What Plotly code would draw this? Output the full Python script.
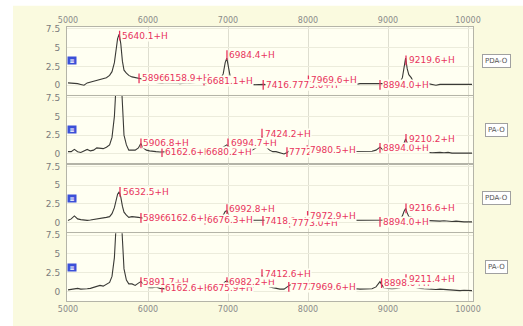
import plotly.graph_objects as go
from plotly.subplots import make_subplots

# ---------------- data ----------------
mz = [5000, 5040, 5080, 5120, 5160, 5200, 5240, 5280, 5320, 5360,
      5400, 5440, 5480, 5520, 5550, 5580, 5600, 5620, 5640, 5660,
      5680, 5700, 5730, 5760, 5800, 5840, 5880, 5910, 5940, 5980,
      6020, 6060, 6100, 6150, 6200, 6250, 6300, 6350, 6400, 6450,
      6500, 6550, 6600, 6650, 6700, 6750, 6800, 6850, 6900, 6940,
      6965, 6985, 7005, 7030, 7060, 7100, 7150, 7200, 7250, 7300,
      7350, 7400, 7425, 7450, 7480, 7520, 7560, 7600, 7650, 7700,
      7740, 7780, 7820, 7860, 7900, 7950, 8000, 8050, 8100, 8150,
      8200, 8250, 8300, 8350, 8400, 8450, 8500, 8550, 8600, 8650,
      8700, 8750, 8800, 8850, 8880, 8900, 8920, 8950, 9000, 9050,
      9100, 9150, 9180, 9200, 9220, 9240, 9260, 9290, 9320, 9360,
      9400, 9450, 9500, 9550, 9600, 9650, 9700, 9750, 9800, 9850,
      9900, 9950, 10000, 10050]

int_pda1 = [0.3, 0.3, 0.25, 0.2, 0.1, 0.0, 0.3, 0.4, 0.5, 0.6,
            0.7, 0.9, 1.0, 1.3, 1.8, 3.0, 4.8, 6.2, 6.8, 5.5,
            3.2, 2.0, 1.6, 1.3, 1.1, 1.0, 1.0, 0.9, 0.8, 0.6,
            0.5, 0.4, 0.35, 0.3, 0.25, 0.2, 0.25, 0.3, 0.2, 0.25,
            0.3, 0.3, 0.35, 0.4, 0.3, 0.3, 0.4, 0.5, 0.7, 1.5,
            3.0, 3.6, 2.6, 1.0, 0.4, 0.2, 0.2, 0.1, 0.1, 0.05,
            0.1, 0.1, 0.1, 0.1, 0.05, 0.1, 0.05, 0.1, 0.1, 0.1,
            0.1, 0.05, 0.1, 0.1, 0.05, 0.1, 0.2, 0.25, 0.3, 0.2,
            0.15, 0.2, 0.3, 0.2, 0.1, 0.15, 0.1, 0.3, 0.1, 0.2,
            0.2, 0.1, 0.1, 0.1, 0.15, 0.2, 0.2, 0.2, 0.2, 0.25,
            0.3, 0.4, 1.0, 2.5, 3.6, 2.2, 1.4, 1.0, 0.4, 0.2,
            0.15, 0.1, 0.2, 0.1, 0.0, 0.1, 0.05, 0.1, 0.1, 0.1,
            0.05, 0.1, 0.1, 0.1]

int_pa1 = [0.3, 0.3, 0.6, 0.3, 0.2, 0.4, 0.6, 0.4, 0.5, 0.8,
           0.8, 0.7, 0.9, 1.2, 2.2, 5.0, 9.0, 12.0, 12.5, 11.0,
           6.0, 2.5, 1.2, 0.5, 0.5, 0.5, 0.8, 1.4, 0.8, 0.5,
           0.4, 0.3, 0.3, 0.25, 0.3, 0.3, 0.3, 0.3, 0.4, 0.3,
           0.3, 0.3, 0.3, 0.3, 0.3, 0.3, 0.3, 0.4, 0.6, 0.9,
           1.1, 1.2, 1.0, 0.8, 0.4, 0.3, 0.3, 0.4, 0.5, 0.5,
           0.8, 1.5, 2.3, 1.8, 0.9, 0.5, 0.3, 0.3, 0.2, 0.0,
           0.2, 0.5, 0.2, 0.3, 0.3, 0.3, 0.3, 0.35, 0.3, 0.3,
           0.3, 0.35, 0.3, 0.3, 0.3, 0.25, 0.3, 0.3, 0.3, 0.3,
           0.3, 0.3, 0.35, 0.5, 0.8, 0.9, 0.7, 0.4, 0.35, 0.3,
           0.3, 0.4, 0.8, 1.4, 2.0, 1.5, 1.0, 0.6, 0.4, 0.3,
           0.3, 0.2, 0.2, 0.15, 0.2, 0.2, 0.15, 0.2, 0.1, 0.1,
           0.1, 0.1, 0.1, 0.1]

int_pda2 = [0.3, 0.5, 0.9, 0.5, 0.4, 0.3, 0.3, 0.35, 0.4, 0.5,
            0.6, 0.6, 0.7, 0.8, 1.2, 2.0, 3.0, 3.8, 4.1, 3.4,
            2.2, 1.4, 1.0, 0.7, 0.8, 0.7, 0.7, 0.65, 0.6, 0.5,
            0.45, 0.4, 0.35, 0.3, 0.3, 0.2, 0.15, 0.2, 0.3, 0.2,
            0.2, 0.25, 0.3, 0.3, 0.4, 0.35, 0.3, 0.4, 0.6, 1.0,
            1.5, 1.6, 1.2, 0.6, 0.4, 0.3, 0.3, 0.3, 0.3, 0.3,
            0.3, 0.3, 0.3, 0.3, 0.25, 0.3, 0.3, 0.3, 0.3, 0.3,
            0.25, 0.3, 0.3, 0.3, 0.3, 0.35, 0.4, 0.3, 0.3, 0.35,
            0.3, 0.3, 0.25, 0.3, 0.3, 0.3, 0.25, 0.3, 0.3, 0.3,
            0.25, 0.3, 0.3, 0.3, 0.3, 0.3, 0.3, 0.3, 0.3, 0.3,
            0.35, 0.45, 0.9, 1.5, 1.9, 1.3, 0.8, 0.7, 0.6, 0.4,
            0.35, 0.3, 0.25, 0.3, 0.2, 0.2, 0.25, 0.2, 0.15, 0.2,
            0.1, 0.1, 0.1, 0.1]

int_pa2 = [0.2, 0.3, 0.3, 0.4, 0.3, 0.3, 0.35, 0.4, 0.5, 0.6,
           0.8, 0.7, 0.9, 1.2, 2.0, 4.5, 8.5, 12.0, 13.0, 11.0,
           6.0, 3.0, 1.5, 1.0, 1.0, 0.8, 1.1, 1.3, 1.0, 0.7,
           0.5, 0.5, 0.6, 0.4, 0.3, 0.3, 0.3, 0.35, 0.3, 0.3,
           0.3, 0.3, 0.3, 0.3, 0.3, 0.35, 0.3, 0.4, 0.7, 1.0,
           1.3, 1.4, 1.2, 0.9, 0.6, 0.4, 0.3, 0.35, 0.4, 0.5,
           0.8, 1.4, 2.1, 1.7, 0.9, 0.6, 0.5, 0.4, 0.3, 0.3,
           0.6, 0.9, 0.4, 0.3, 0.35, 0.3, 0.35, 0.3, 0.4, 0.3,
           0.3, 0.35, 0.3, 0.3, 0.35, 0.3, 0.3, 0.3, 0.35, 0.3,
           0.3, 0.3, 0.35, 0.6, 1.0, 1.3, 0.9, 0.5, 0.4, 0.35,
           0.4, 0.5, 0.9, 1.3, 1.5, 1.2, 0.9, 0.7, 0.6, 0.45,
           0.4, 0.35, 0.3, 0.3, 0.25, 0.3, 0.25, 0.2, 0.2, 0.15,
           0.1, 0.15, 0.1, 0.1]

panel_names = ["PDA-O", "PA-O", "PDA-O", "PA-O"]

peak_x1 = [5645, 5888, 6172, 6700, 6987, 7440, 7770, 8005, 8900, 9225]
peak_y1 = [6.6, 0.9, 0.9, 0.6, 4.0, 0.05, 0.05, 0.65, 0.05, 3.3]
peak_t1 = ["5640.1+H", "5896.4+H", "6158.9+H", "6681.1+H", "6984.4+H",
           "7416.8+H", "7773.0+H", "7969.6+H", "8894.0+H", "9219.6+H"]

peak_x2 = [5912, 6175, 6690, 7000, 7425, 7737, 7990, 8900, 9225]
peak_y2 = [1.4, 0.25, 0.25, 1.4, 2.7, 0.25, 0.5, 0.8, 2.0]
peak_t2 = ["5906.8+H", "6162.6+H", "6680.2+H", "6994.7+H", "7424.2+H",
           "7772.1+H", "7980.5+H", "8894.0+H", "9210.2+H"]

peak_x3 = [5650, 5912, 6175, 6712, 6987, 7437, 7770, 7995, 8900, 9225]
peak_y3 = [4.1, 0.65, 0.65, 0.4, 1.8, 0.25, 0.0, 0.9, 0.1, 1.9]
peak_t3 = ["5632.5+H", "5896.0+H", "6162.6+H", "6676.3+H", "6992.8+H",
           "7418.1+H", "7773.0+H", "7972.9+H", "8894.0+H", "9216.6+H"]

peak_x4 = [5912, 6175, 6712, 6987, 7425, 7760, 7995, 8920, 9225]
peak_y4 = [1.25, 0.5, 0.5, 1.25, 2.3, 0.6, 0.6, 1.1, 1.65]
peak_t4 = ["5891.7+H", "6162.6+H", "6675.9+H", "6982.2+H", "7412.6+H",
           "7772.0+H", "7969.6+H", "8898.6+H", "9211.4+H"]

x_ticks = [5000, 6000, 7000, 8000, 9000, 10000]
x_tick_text = ["5000", "6000", "7000", "8000", "9000", "10000"]
y_ticks = [0, 2.5, 5, 7.5]
y_tick_text = ["0", "2.5", "5", "7.5"]

# ---------------- figure ----------------
spectra = [int_pda1, int_pa1, int_pda2, int_pa2]
peaks = [(peak_x1, peak_y1, peak_t1), (peak_x2, peak_y2, peak_t2),
         (peak_x3, peak_y3, peak_t3), (peak_x4, peak_y4, peak_t4)]
for s in spectra:
    assert len(s) == len(mz)

PAPER = "#fafadf"
PLOT = "#fffff2"
RED = "#e8345c"
FONT = "DejaVu Sans"

fig = make_subplots(rows=4, cols=1, shared_xaxes=True, vertical_spacing=1 / 283)

half = 0.65
for i, (ys, (px, py, pt)) in enumerate(zip(spectra, peaks), start=1):
    fig.add_trace(go.Scatter(x=mz, y=ys, mode="lines",
                             line=dict(color="#3a3a36", width=1.1),
                             hoverinfo="skip", showlegend=False), row=i, col=1)
    tx, ty = [], []
    for xv, yv in zip(px, py):
        tx += [xv, xv, None]
        ty += [yv - half, yv + half, None]
    fig.add_trace(go.Scatter(x=tx, y=ty, mode="lines",
                             line=dict(color=RED, width=1.3),
                             hoverinfo="skip", showlegend=False), row=i, col=1)
    xr = "x" if i == 1 else f"x{i}"
    yr = "y" if i == 1 else f"y{i}"
    for xv, yv, t in zip(px, py, pt):
        fig.add_annotation(x=xv, y=yv, xref=xr, yref=yr, text=t, showarrow=False,
                           xanchor="left", yanchor="middle", xshift=1.5,
                           font=dict(family=FONT, size=9, color=RED),
                           bgcolor=PLOT, borderpad=0)
    # right-side panel label
    fig.add_annotation(x=1.059, y=0.5, xref="paper", yref=f"{yr} domain",
                       text=panel_names[i - 1], showarrow=False,
                       xanchor="center", yanchor="middle",
                       font=dict(family=FONT, size=7, color="#555555"),
                       bgcolor="#ffffff", bordercolor="#a0a0a0", borderwidth=1,
                       borderpad=2)
    # small blue icon
    fig.add_annotation(x=0.013, y=0.5, xref=f"{xr} domain", yref=f"{yr} domain",
                       text="<b>≡</b>", showarrow=False, xanchor="center",
                       yanchor="middle", width=8, height=7,
                       font=dict(family=FONT, size=6, color="#ffffff"),
                       bgcolor="#3a4fd8", borderpad=0)

fig.update_xaxes(range=[4987.5, 10062.5], tickvals=x_ticks, ticktext=x_tick_text,
                 showgrid=True, gridcolor="#deded0", gridwidth=1,
                 showline=True, linecolor="#b4b4a8", linewidth=1, mirror=True,
                 ticks="", zeroline=False,
                 tickfont=dict(family=FONT, size=8, color="#8a8a8a"))
fig.update_xaxes(showticklabels=True, side="top", row=1, col=1)
fig.update_yaxes(range=[-1.28, 7.75], tickvals=y_ticks, ticktext=y_tick_text,
                 showgrid=True, gridcolor="#ececdc", gridwidth=1,
                 showline=True, linecolor="#b4b4a8", linewidth=1, mirror=True,
                 ticks="", zeroline=False, ticklabelstandoff=4,
                 tickfont=dict(family=FONT, size=9, color="#7c7c7c"))

fig.update_layout(
    width=523, height=326,
    margin=dict(l=67, r=50, t=27, b=16),
    paper_bgcolor=PAPER, plot_bgcolor=PLOT,
    showlegend=False,
    shapes=[
        dict(type="rect", xref="paper", yref="paper",
             x0=-0.3, x1=(13 - 67) / 406, y0=-0.2, y1=1.3,
             fillcolor="#ffffff", line=dict(width=0), layer="below"),
        dict(type="rect", xref="paper", yref="paper",
             x0=-0.3, x1=1.3, y0=1 + 22 / 283, y1=1.3,
             fillcolor="#ffffff", line=dict(width=0), layer="below"),
    ],
)

fig.write_html("out.html",
               config={"displayModeBar": False},
               post_script="document.body.style.margin='0px';"
                           "document.body.style.overflow='hidden';")
